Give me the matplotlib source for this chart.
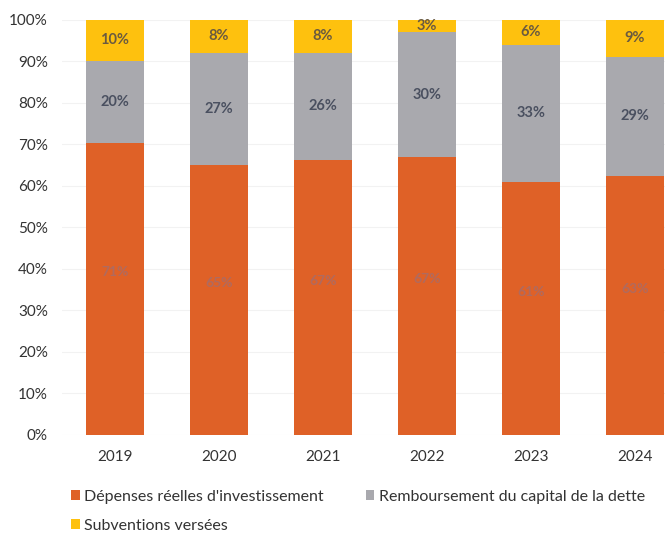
import matplotlib
matplotlib.use("Agg")
import matplotlib.pyplot as plt
import numpy as np

years = ["2019", "2020", "2021", "2022", "2023", "2024"]
depenses = [71, 65, 67, 67, 61, 63]
remboursement = [20, 27, 26, 30, 33, 29]
subventions = [10, 8, 8, 3, 6, 9]
series_names = ["Dépenses réelles d'investissement",
                "Remboursement du capital de la dette",
                "Subventions versées"]
ytick_vals = [0, 10, 20, 30, 40, 50, 60, 70, 80, 90, 100]

plt.rcParams['font.family'] = ['Lato', 'DejaVu Sans']

fig = plt.figure(figsize=(6.65, 5.37), dpi=100)
ax = fig.add_axes([0.093, 0.190, 0.907, 0.773])

x = np.arange(len(years))
w = 0.56
c_or, c_gr, c_ye = '#DF6127', '#A9A9AE', '#FEC10E'

tot = np.array(depenses) + np.array(remboursement) + np.array(subventions)
d = np.array(depenses) / tot * 100
r = np.array(remboursement) / tot * 100
s = np.array(subventions) / tot * 100

b1 = ax.bar(x, d, w, color=c_or, label=series_names[0], zorder=2)
b2 = ax.bar(x, r, w, bottom=d, color=c_gr, label=series_names[1], zorder=2)
b3 = ax.bar(x, s, w, bottom=d + r, color=c_ye, label=series_names[2], zorder=2)

for i in range(len(years)):
    ax.text(x[i], d[i] / 2 + 4, f"{depenses[i]}%", ha='center', va='center',
            fontsize=10, color='#B06A5E', fontweight='bold', zorder=3)
    ax.text(x[i], d[i] + r[i] / 2, f"{remboursement[i]}%", ha='center', va='center',
            fontsize=10.5, color='#4A5060', fontweight='bold', zorder=3)
    ax.text(x[i], d[i] + r[i] + s[i] / 2, f"{subventions[i]}%", ha='center', va='center',
            fontsize=10.5, color='#6A5A40', fontweight='bold', zorder=3)

ax.set_ylim(0, 100)
ax.set_xlim(-0.51, 5.29)
ax.set_yticks(ytick_vals)
ax.set_yticklabels([f"{v}%" for v in ytick_vals])
ax.set_xticks(x)
ax.set_xticklabels(years)
ax.tick_params(axis='both', length=0, labelsize=11, colors='#333333')
ax.tick_params(axis='y', pad=10)
ax.tick_params(axis='x', pad=11)
for sp in ax.spines.values():
    sp.set_visible(False)
ax.yaxis.grid(True, color='#F2F2F2', linewidth=0.8, zorder=0)

handles = [b1, b3, b2]
labels = [series_names[0], series_names[2], series_names[1]]
leg = fig.legend(handles, labels, loc='upper left', bbox_to_anchor=(0.085, 0.115),
                 ncol=2, frameon=False, fontsize=11.5, handlelength=0.55, handleheight=0.55,
                 handletextpad=0.3, columnspacing=2.6, labelspacing=0.95)
for t in leg.get_texts():
    t.set_color('#333333')

fig.savefig("out.png", dpi=100)
